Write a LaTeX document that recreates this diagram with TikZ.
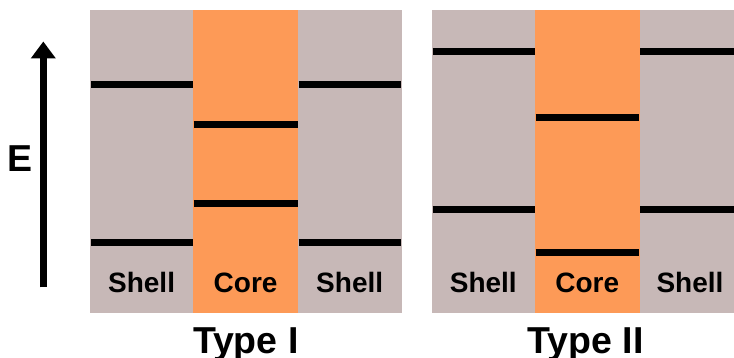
\documentclass[tikz,border=0pt]{standalone}
\usepackage{fontspec}
\setmainfont{Liberation Sans}
\usetikzlibrary{arrows.meta}
\definecolor{shellc}{HTML}{C7B8B7}
\definecolor{corec}{HTML}{FD9A57}
\begin{document}
\begin{tikzpicture}[x=1pt,y=-1pt,
  level/.style={line width=7pt, black},
  lbl/.style={font=\fontsize{28}{30}\selectfont\bfseries, anchor=base},
  ttl/.style={font=\fontsize{37.5}{39}\selectfont\bfseries, anchor=base}]
\useasboundingbox (0,0) rectangle (734,358);
% left panel
\fill[shellc] (90,10) rectangle (193.3,313);
\fill[corec] (193.3,10) rectangle (298,313);
\fill[shellc] (298,10) rectangle (401.5,313);
% right panel
\fill[shellc] (431.7,10) rectangle (535,313);
\fill[corec] (535,10) rectangle (639.7,313);
\fill[shellc] (639.7,10) rectangle (734,313);
% levels left
\draw[level] (91,84.7) -- (192.7,84.7);
\draw[level] (91,242.5) -- (192.7,242.5);
\draw[level] (193.5,124.3) -- (297.5,124.3);
\draw[level] (193.5,203.3) -- (297.5,203.3);
\draw[level] (298.5,84.7) -- (401,84.7);
\draw[level] (298.5,242.5) -- (401,242.5);
% levels right
\draw[level] (432.5,51.7) -- (535,51.7);
\draw[level] (432.5,209.3) -- (535,209.3);
\draw[level] (535.5,118) -- (639,118);
\draw[level] (535.5,252.3) -- (639,252.3);
\draw[level] (640,51.7) -- (734,51.7);
\draw[level] (640,209.3) -- (734,209.3);
% arrow
\coordinate (abot) at (43.3,287.5);
\coordinate (atop) at (43.3,41.5);
\draw[line width=7pt, -{Triangle[length=17pt,width=24pt]}] (abot) -- (atop);
\node[ttl] (E) at (20.5,171.5) {E};
% labels
\node[lbl] (s1) at (141.6,293) {Shell};
\node[lbl] (c1) at (245.6,293) {Core};
\node[lbl] (s2) at (349.7,293) {Shell};
\node[lbl] (s3) at (483.3,293) {Shell};
\node[lbl] (c2) at (587.3,293) {Core};
\node[lbl] (s4) at (690,293) {Shell};
\node[ttl] (t1) at (245.8,353.5) {Type I};
\node[ttl] (t2) at (585.5,353.5) {Type II};
\end{tikzpicture}
\end{document}
